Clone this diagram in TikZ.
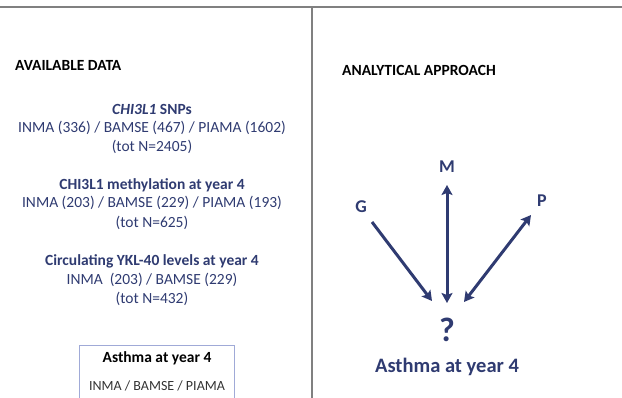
\documentclass[tikz,border=0pt]{standalone}
\usepackage{fontspec}
\setmainfont{Carlito}
\usepackage{xcolor}
\usepackage{tikz}
\usetikzlibrary{arrows.meta}
\definecolor{navy}{RGB}{47,59,113}
\definecolor{rulegray}{RGB}{128,128,128}
\definecolor{boxblue}{RGB}{160,170,215}

\begin{document}
\begin{tikzpicture}[x=1pt,y=-1pt,>={Stealth[length=10pt,width=11pt,inset=2pt]}]
			\useasboundingbox (0,0) rectangle (622,398);
			\tikzset{
				head/.style={anchor=base west,inner sep=0pt,font=\fontsize{15.5}{18}\selectfont\bfseries},
				data/.style={anchor=base,text=navy,font=\fontsize{15.5}{19}\selectfont},
				datahead/.style={data,font=\fontsize{15.5}{19}\selectfont\bfseries},
				var/.style={anchor=base,text=navy,font=\fontsize{18}{21}\selectfont\bfseries},
				link/.style={navy,line width=3pt}
			}
			
			\draw[rulegray,line width=2pt] (0,7)--(622,7);
			\draw[rulegray,line width=2pt] (312,7)--(312,398);
			
			% available data
			\node[head] (avail) at (15,71) {AVAILABLE DATA};
			\node[datahead] (snp) at (152,115) {\textit{CHI3L1} SNPs};
			\node[data] (snpn) at (152,133) {INMA (336) / BAMSE (467) / PIAMA (1602)};
			\node[data] (snptot) at (152,152) {(tot N=2405)};
			\node[datahead] (meth) at (152,190) {CHI3L1 methylation at year 4};
			\node[data] (methn) at (152,208) {INMA (203) / BAMSE (229) / PIAMA (193)};
			\node[data] (methtot) at (152,228) {(tot N=625)};
			\node[datahead] (ykl) at (152,266) {Circulating YKL-40 levels at year 4};
			\node[data] (ykln) at (152,285) {INMA\ \ (203) / BAMSE (229)};
			\node[data] (ykltot) at (152,304) {(tot N=432)};
			
			\draw[boxblue,line width=0.9pt] (79,399)--(79,345)--(234,345)--(234,399);
			\node[anchor=base,font=\fontsize{15.5}{19}\selectfont\bfseries] (outc) at (157,363) {Asthma at year 4};
			\node[anchor=base,text=black!80,font=\fontsize{14}{17}\selectfont] (coh) at (157,391) {INMA / BAMSE / PIAMA};
			
			% analytical approach
			\node[head] (appr) at (342,76) {ANALYTICAL APPROACH};
			\node[var] (M) at (447,173) {M};
			\node[var] (G) at (361,213) {G};
			\node[var] (P) at (542,207) {P};
			\node[anchor=base,text=navy,font=\fontsize{34}{40}\selectfont\bfseries] (q) at (447,342) {?};
			\node[anchor=base,text=navy,font=\fontsize{20.5}{24}\selectfont\bfseries] (asthma) at (447,373) {Asthma at year 4};
			
			\coordinate (Gs) at (372,222);
			\coordinate (Ge) at (432,301);
			\coordinate (Ms) at (447,185);
			\coordinate (Me) at (447,303);
			\coordinate (Ps) at (531,215);
			\coordinate (Pe) at (464,302);
			\draw[link,->] (Gs)--(Ge);
			\draw[link,<->] (Ms)--(Me);
			\draw[link,<->] (Ps)--(Pe);
		\end{tikzpicture}
\end{document}
